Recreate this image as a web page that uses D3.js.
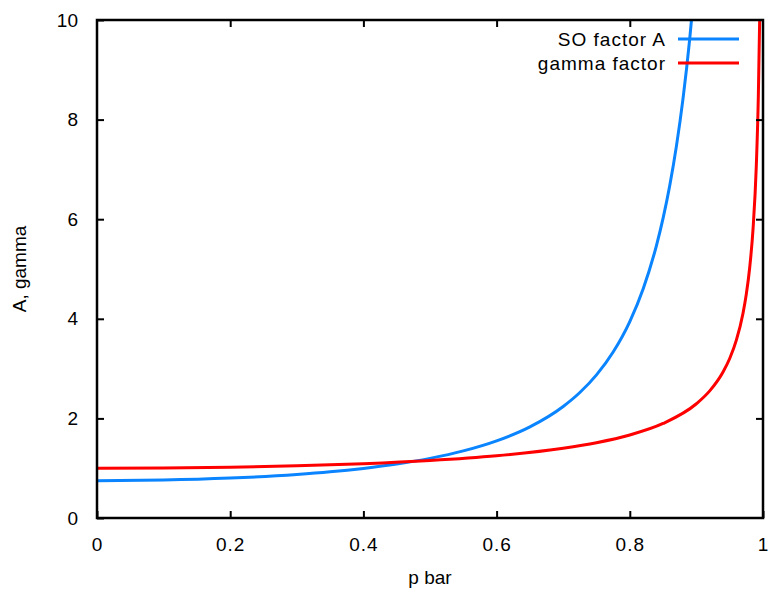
<!DOCTYPE html>
<html>
<head>
<meta charset="utf-8">
<script src="https://cdn.jsdelivr.net/npm/d3@7"></script>
<style>
  body { margin: 0; background: #fff; }
  text { font-family: "Liberation Sans", Arial, sans-serif; }
</style>
</head>
<body>
<div id="chart"></div>
<script>
// values
var pBlue = [0, 0.1, 0.2, 0.3, 0.35, 0.4, 0.45, 0.5, 0.55, 0.6, 0.65, 0.7, 0.725, 0.75, 0.775, 0.8, 0.82, 0.84, 0.85, 0.86, 0.87, 0.88, 0.89, 0.895];
var soFactorA = [0.75, 0.762, 0.801, 0.874, 0.927, 0.996, 1.083, 1.197, 1.347, 1.549, 1.83, 2.24, 2.52, 2.874, 3.333, 3.945, 4.599, 5.471, 6.022, 6.678, 7.467, 8.431, 9.628, 10.34];

var pRed = [0, 0.1, 0.2, 0.3, 0.4, 0.5, 0.6, 0.7, 0.75, 0.8, 0.85, 0.9, 0.92, 0.94, 0.95, 0.96, 0.97, 0.975, 0.98, 0.985, 0.99, 0.993, 0.995, 0.9962];
var gammaFactor = [1, 1.005, 1.021, 1.048, 1.091, 1.155, 1.25, 1.4, 1.512, 1.667, 1.898, 2.294, 2.552, 2.931, 3.203, 3.571, 4.113, 4.5, 5.025, 5.795, 7.089, 8.47, 10.01, 11.4];

var xTicks = [0, 0.2, 0.4, 0.6, 0.8, 1];
var yTicks = [0, 2, 4, 6, 8, 10];
var seriesNames = ["SO factor A", "gamma factor"];
var seriesColors = ["#0a84ff", "#ff0000"];

(function() {
  var margin = { top: 20, left: 97, right: 6, bottom: 78 },
      width = 769,
      height = 596,
      w = width - margin.left - margin.right,
      h = height - margin.top - margin.bottom;

  var svg = d3.select("#chart")
    .append("svg")
    .attr("width", width)
    .attr("height", height);

  var g = svg.append("g")
    .attr("transform", "translate(" + margin.left + "," + margin.top + ")");

  var x = d3.scaleLinear().domain([0, 1]).range([0, w]);
  var y = d3.scaleLinear().domain([0, 10]).range([h, 0]);

  g.append("clipPath").attr("id", "plotclip")
    .append("rect").attr("width", w).attr("height", h);

  // curves
  var series = [
    { name: seriesNames[0], color: seriesColors[0], xs: pBlue, ys: soFactorA },
    { name: seriesNames[1], color: seriesColors[1], xs: pRed, ys: gammaFactor }
  ];

  var line = d3.line()
    .x(function(d) { return x(d[0]); })
    .y(function(d) { return y(d[1]); })
    .curve(d3.curveMonotoneX);

  g.append("g").attr("clip-path", "url(#plotclip)")
    .selectAll("path")
    .data(series)
    .enter().append("path")
      .attr("fill", "none")
      .attr("stroke", function(d) { return d.color; })
      .attr("stroke-width", 3)
      .attr("d", function(d) {
        return line(d.xs.map(function(v, i) { return [v, d.ys[i]]; }));
      });

  // axes: ticks inward on all four sides
  var fmt = function(d) { return d === 0 || d === 1 ? d3.format("d")(d) : d3.format(".1f")(d); };

  var bottom = g.append("g").attr("transform", "translate(0," + h + ")")
    .call(d3.axisBottom(x).tickValues(xTicks).tickSizeInner(-7).tickSizeOuter(0).tickPadding(20).tickFormat(fmt));
  var top = g.append("g")
    .call(d3.axisTop(x).tickValues(xTicks.slice(1, -1)).tickSizeInner(-7).tickSizeOuter(0).tickFormat(""));
  var left = g.append("g")
    .call(d3.axisLeft(y).tickValues(yTicks).tickSizeInner(-7).tickSizeOuter(0).tickPadding(19));
  var right = g.append("g").attr("transform", "translate(" + w + ",0)")
    .call(d3.axisRight(y).tickValues(yTicks.slice(1, -1)).tickSizeInner(-7).tickSizeOuter(0).tickFormat(""));

  [bottom, top, left, right].forEach(function(a) {
    a.selectAll(".domain").remove();
    a.selectAll(".tick line").attr("stroke", "#000").attr("stroke-width", 2);
    a.selectAll(".tick text").attr("fill", "#000").style("font-size", "19px");
  });
  bottom.selectAll(".tick text").style("letter-spacing", "1px");

  g.append("rect")
    .attr("width", w).attr("height", h)
    .attr("fill", "none").attr("stroke", "#000").attr("stroke-width", 2.5);

  // axis titles
  svg.append("text")
    .attr("x", margin.left + w / 2).attr("y", 584)
    .attr("text-anchor", "middle")
    .style("font-size", "19px")
    .text("p bar");

  svg.append("text")
    .attr("transform", "translate(26," + (margin.top + h / 2) + ") rotate(-90)")
    .attr("text-anchor", "middle")
    .style("font-size", "19px")
    .text("A, gamma");

  // legend
  var legend = svg.append("g").selectAll("g")
    .data(series)
    .enter().append("g")
      .attr("transform", function(d, i) { return "translate(0," + (39 + i * 24) + ")"; });

  legend.append("text")
    .attr("x", 666).attr("y", 0).attr("dy", "0.35em")
    .attr("text-anchor", "end")
    .style("font-size", "19px")
    .style("letter-spacing", "1px")
    .text(function(d) { return d.name; });

  legend.append("line")
    .attr("x1", 678).attr("x2", 739)
    .attr("stroke", function(d) { return d.color; })
    .attr("stroke-width", 3);
})();
</script>
</body>
</html>
